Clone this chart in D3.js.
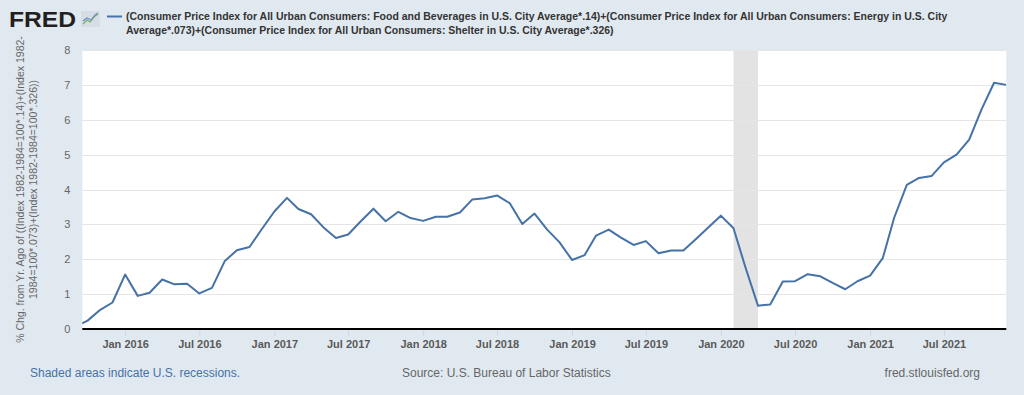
<!DOCTYPE html>
<html>
<head>
<meta charset="utf-8">
<script src="https://cdn.jsdelivr.net/npm/d3@7"></script>
<style>
  html, body { margin: 0; padding: 0; background: #e1e9f0; }
  svg { display: block; font-family: "Liberation Sans", Arial, sans-serif; }
</style>
</head>
<body>
<svg id="chart" width="1024" height="395"></svg>
<script>
// ---- data ----
const months = [
  "2015-09","2015-10","2015-11","2015-12",
  "2016-01","2016-02","2016-03","2016-04","2016-05","2016-06","2016-07","2016-08","2016-09","2016-10","2016-11","2016-12",
  "2017-01","2017-02","2017-03","2017-04","2017-05","2017-06","2017-07","2017-08","2017-09","2017-10","2017-11","2017-12",
  "2018-01","2018-02","2018-03","2018-04","2018-05","2018-06","2018-07","2018-08","2018-09","2018-10","2018-11","2018-12",
  "2019-01","2019-02","2019-03","2019-04","2019-05","2019-06","2019-07","2019-08","2019-09","2019-10","2019-11","2019-12",
  "2020-01","2020-02","2020-03","2020-04","2020-05","2020-06","2020-07","2020-08","2020-09","2020-10","2020-11","2020-12",
  "2021-01","2021-02","2021-03","2021-04","2021-05","2021-06","2021-07","2021-08","2021-09","2021-10","2021-11","2021-12"
];
const values = [
  0.07, 0.24, 0.55, 0.76,
  1.56, 0.95, 1.04, 1.42, 1.28, 1.30, 1.02, 1.18, 1.94, 2.26, 2.35, 2.86,
  3.37, 3.76, 3.44, 3.29, 2.92, 2.61, 2.71, 3.09, 3.45, 3.09, 3.36, 3.18,
  3.10, 3.22, 3.22, 3.34, 3.71, 3.75, 3.83, 3.61, 3.01, 3.31, 2.85, 2.49,
  1.98, 2.12, 2.68, 2.85, 2.62, 2.41, 2.52, 2.17, 2.25, 2.25, 2.58, 2.91,
  3.25, 2.89, 1.78, 0.67, 0.70, 1.36, 1.37, 1.57, 1.51, 1.32, 1.14, 1.37,
  1.53, 2.03, 3.19, 4.13, 4.33, 4.39, 4.78, 5.00, 5.43, 6.29, 7.06, 7.00
];
const xDomain = ["2015-09-18", "2021-12-01"];
const recessions = [["2020-02-01", "2020-04-01"]];
const xTickDates = ["2016-01","2016-07","2017-01","2017-07","2018-01","2018-07","2019-01","2019-07","2020-01","2020-07","2021-01","2021-07"];
const yTicks = [0,1,2,3,4,5,6,7,8];
const legendLines = [
  "(Consumer Price Index for All Urban Consumers: Food and Beverages in U.S. City Average*.14)+(Consumer Price Index for All Urban Consumers: Energy in U.S. City",
  "Average*.073)+(Consumer Price Index for All Urban Consumers: Shelter in U.S. City Average*.326)"
];
const yTitleLines = [
  "% Chg. from Yr. Ago of ((Index 1982-1984=100*.14)+(Index 1982-",
  "1984=100*.073)+(Index 1982-1984=100*.326))"
];
const footerLeft = "Shaded areas indicate U.S. recessions.";
const footerMid = "Source: U.S. Bureau of Labor Statistics";
const footerRight = "fred.stlouisfed.org";

// ---- layout ----
const parseM = d3.timeParse("%Y-%m");
const parseD = d3.timeParse("%Y-%m-%d");
const data = months.map((m, i) => ({ date: parseM(m), value: values[i] }));

const plot = { left: 82.3, right: 1006.3, top: 50, bottom: 329 };
const svg = d3.select("#chart");

const x = d3.scaleTime().domain(xDomain.map(parseD)).range([plot.left, plot.right]);
const y = d3.scaleLinear().domain([0, 8]).range([plot.bottom, plot.top]);

// background
svg.append("rect").attr("width", 1024).attr("height", 395).attr("fill", "#e1e9f0");
svg.append("rect")
  .attr("x", plot.left).attr("y", plot.top)
  .attr("width", plot.right - plot.left).attr("height", plot.bottom - plot.top)
  .attr("fill", "#ffffff");

// recession shading
svg.append("g").selectAll("rect").data(recessions).join("rect")
  .attr("x", d => x(parseD(d[0])))
  .attr("width", d => x(parseD(d[1])) - x(parseD(d[0])))
  .attr("y", plot.top).attr("height", plot.bottom - plot.top)
  .attr("fill", "#e3e3e3");

// grid lines
svg.append("g").selectAll("line").data(yTicks.filter(t => t > 0)).join("line")
  .attr("x1", plot.left).attr("x2", plot.right)
  .attr("y1", d => Math.round(y(d)) + 0.5).attr("y2", d => Math.round(y(d)) + 0.5)
  .attr("stroke", "#e6e6e6").attr("stroke-width", 1);

// y axis labels
const yAxis = d3.axisLeft(y).tickValues(yTicks).tickSize(0).tickPadding(0).tickFormat(d3.format("d"));
const gy = svg.append("g").attr("transform", `translate(${plot.left - 12},0)`).call(yAxis);
gy.select(".domain").remove();
gy.selectAll("text")
  .attr("fill", "#666666").attr("font-size", 11)
  .attr("font-family", "Liberation Sans, Arial, sans-serif");

// x axis
const xAxis = d3.axisBottom(x).tickValues(xTickDates.map(parseM)).tickSize(7).tickPadding(4)
  .tickFormat(d3.timeFormat("%b %Y"));
const gx = svg.append("g").attr("transform", `translate(0,${plot.bottom})`).call(xAxis);
gx.select(".domain").remove();
gx.selectAll(".tick line").attr("stroke", "#ccd6eb").attr("stroke-width", 1);
gx.selectAll("text")
  .attr("fill", "#595959").attr("font-size", 11).attr("font-weight", "bold")
  .attr("font-family", "Liberation Sans, Arial, sans-serif");

// axis baseline
svg.append("line")
  .attr("x1", plot.left).attr("x2", plot.right)
  .attr("y1", plot.bottom).attr("y2", plot.bottom)
  .attr("stroke", "#000000").attr("stroke-width", 2);

// clip & line
svg.append("clipPath").attr("id", "clip").append("rect")
  .attr("x", plot.left).attr("y", plot.top - 5)
  .attr("width", plot.right - plot.left).attr("height", plot.bottom - plot.top + 5);

svg.append("path").datum(data)
  .attr("clip-path", "url(#clip)")
  .attr("fill", "none").attr("stroke", "#4572a7").attr("stroke-width", 2)
  .attr("stroke-linejoin", "round")
  .attr("d", d3.line().x(d => x(d.date)).y(d => y(d.value)));

// helper to fit text to a measured width from the picture
function fit(sel, target) {
  const n = sel.node();
  const len = n.getComputedTextLength();
  const fs = parseFloat(sel.attr("font-size"));
  if (len > 0) sel.attr("font-size", (fs * target / len).toFixed(2));
}

// y axis title
const yTitle = svg.append("g").attr("transform", `translate(0,${(plot.top + plot.bottom) / 2})`);
yTitleLines.forEach((t, i) => {
  const tx = yTitle.append("text")
    .attr("transform", `translate(${24 + i * 13},0) rotate(-90)`)
    .attr("text-anchor", "middle")
    .attr("fill", "#666666").attr("font-size", 11)
    .text(t);
  if (i === 0) fit(tx, 307);
  else tx.attr("font-size", yTitle.select("text").attr("font-size"));
});

// header: FRED logo
svg.append("text")
  .attr("x", 9).attr("y", 27)
  .attr("font-size", 22).attr("font-weight", "bold")
  .attr("fill", "#231f20")
  .attr("textLength", 67).attr("lengthAdjust", "spacingAndGlyphs")
  .text("FRED");
const icon = svg.append("g").attr("transform", "translate(81,11)");
icon.append("rect").attr("width", 19).attr("height", 16).attr("fill", "#d6dde4").attr("rx", 1);
icon.append("polyline").attr("points", "2,13 6,9 9,11 13,6 17,3")
  .attr("fill", "none").attr("stroke", "#7fb069").attr("stroke-width", 1.3);
icon.append("polyline").attr("points", "2,10 6,7 10,9 14,4 17,2")
  .attr("fill", "none").attr("stroke", "#6b8fc2").attr("stroke-width", 1.1);

// legend
svg.append("line").attr("x1", 107).attr("x2", 122).attr("y1", 16.5).attr("y2", 16.5)
  .attr("stroke", "#4572a7").attr("stroke-width", 2);
const leg0 = svg.append("text").attr("x", 126).attr("y", 20)
  .attr("font-size", 11).attr("font-weight", "bold").attr("fill", "#333333")
  .text(legendLines[0]);
fit(leg0, 822);
svg.append("text").attr("x", 126).attr("y", 34)
  .attr("font-size", leg0.attr("font-size")).attr("font-weight", "bold").attr("fill", "#333333")
  .text(legendLines[1]);

// footer
svg.append("text").attr("x", 30).attr("y", 377).attr("font-size", 12)
  .attr("fill", "#4572a7").text(footerLeft);
svg.append("text").attr("x", 402).attr("y", 377).attr("font-size", 12)
  .attr("fill", "#666666").text(footerMid);
svg.append("text").attr("x", 980).attr("y", 377).attr("font-size", 12)
  .attr("text-anchor", "end").attr("fill", "#666666").text(footerRight);
</script>
</body>
</html>
